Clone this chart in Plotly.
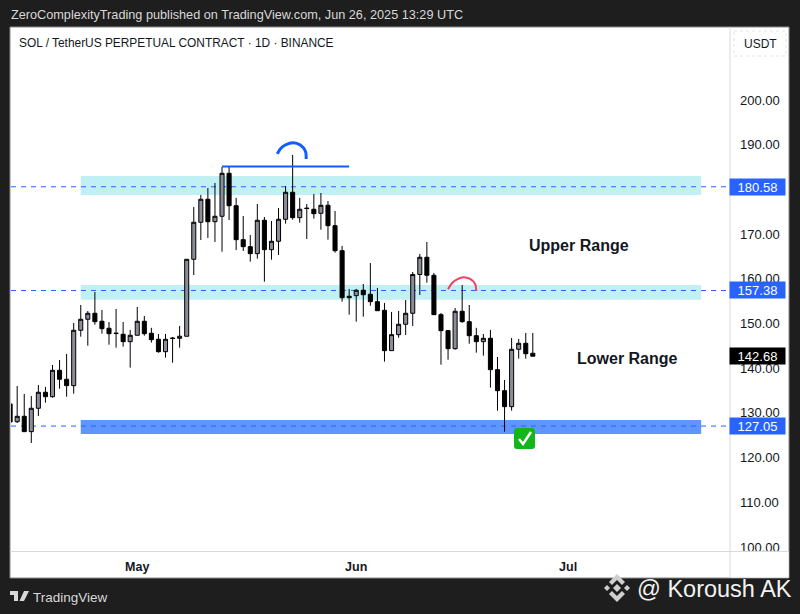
import plotly.graph_objects as go
import pandas as pd

# SOL/USDT daily candles
opens = [131.99, 128.03, 129.24, 125.80, 131.03, 134.61, 133.62, 139.53, 137.52, 136.09, 148.48, 150.94, 152.28, 150.49, 148.93, 147.85, 147.58, 145.93,
         147.36, 150.49, 147.81, 146.47, 143.69, 146.75, 146.69, 147.14, 164.36, 172.64, 177.79, 172.77, 173.98, 183.60, 176.35, 168.75, 167.18, 165.62, 173.09, 166.51, 168.39, 173.31, 179.35, 173.67, 175.82, 175.55, 174.65, 176.44, 171.88, 166.28, 156.08,
         156.22, 157.43, 156.53, 154.88, 152.95, 143.92, 147.50, 149.82, 152.28, 160.96, 164.81, 160.78, 151.97, 148.39, 144.36, 152.73, 150.40, 147.27, 145.93, 146.69, 139.67, 134.97, 131.39, 144.23, 145.57, 143.33]
closes = [127.96, 129.24, 125.80, 131.03, 134.61, 133.62, 139.53, 137.52, 136.09, 148.48, 150.94, 152.28, 150.40, 148.84, 147.72, 147.75, 145.93, 147.36,
          150.49, 147.72, 146.38, 143.69, 146.47, 146.65, 147.14, 164.36, 172.64, 177.79, 172.77, 173.98, 183.60, 176.35, 168.75, 167.18, 165.62, 173.09, 166.51, 168.39, 173.31, 179.35, 173.67, 175.55, 175.72, 174.56, 176.44, 171.88, 166.28, 155.77, 155.77,
          157.43, 156.44, 154.88, 152.86, 143.92, 147.50, 149.82, 152.28, 160.96, 164.81, 160.78, 151.97, 148.39, 144.36, 152.73, 150.40, 147.27, 145.93, 146.69, 139.67, 134.97, 131.39, 144.23, 145.57, 143.24, 142.68]
highs = [133.78, 136.02, 134.23, 133.78, 136.24, 135.80, 140.72, 141.83, 143.18, 150.11, 154.14, 152.80, 157.05, 153.02, 150.34, 153.24, 150.34, 148.55,
         153.69, 151.68, 149.03, 147.65, 147.65, 146.98, 149.44, 164.36, 176.06, 178.75, 180.31, 181.43, 185.01, 185.01, 178.08, 174.05, 169.80, 176.73, 173.83, 172.93, 175.84, 180.76, 187.70, 178.08, 176.73, 178.97, 179.19, 177.40, 175.17, 167.34, 157.72,
         157.72, 158.84, 163.53, 157.94, 154.59, 152.57, 152.80, 155.26, 161.52, 165.55, 168.23, 161.30, 152.35, 148.55, 153.47, 158.61, 154.14, 149.03, 147.65, 148.55, 142.51, 137.36, 146.76, 146.53, 147.88, 147.88]
lows = [125.28, 127.74, 125.80, 123.27, 129.31, 132.28, 133.40, 135.41, 133.62, 134.30, 147.05, 145.03, 149.73, 147.72, 145.26, 144.59, 144.81, 140.12,
        147.36, 147.27, 145.71, 143.47, 142.35, 141.23, 144.59, 147.14, 160.85, 168.68, 169.13, 168.23, 166.06, 173.15, 166.44, 166.22, 163.83, 164.50, 159.35, 164.27, 165.33, 172.33, 173.22, 172.55, 168.90, 173.45, 170.98, 168.75, 165.84, 154.88, 151.97,
        150.40, 151.52, 153.98, 152.86, 141.46, 143.92, 146.82, 147.43, 149.44, 156.38, 159.13, 151.97, 140.78, 141.90, 144.14, 150.18, 145.48, 143.47, 142.80, 135.64, 130.49, 125.80, 130.49, 142.13, 142.13, 142.68]
dates = pd.date_range("2025-04-13", periods=len(opens))

# 180.00 sits under the blue tag in the picture, so it is left out
price_ticks = [100, 110, 120, 130, 140, 150, 160, 170, 190, 200]
price_tick_labels = [f"{p:.2f}" for p in price_ticks]
month_ticks = ["2025-05-01", "2025-06-01", "2025-07-01"]
month_labels = ["May", "Jun", "Jul"]

# zones and levels
zone_start, zone_end = "2025-04-23", "2025-07-19 20:00"
cyan_zones = [(178.75, 183.0), (155.3, 158.6)]
blue_zone = (125.3, 128.4)
levels = [180.58, 157.38, 127.05]
last_price = 142.68
res_line_x = ["2025-05-13", "2025-05-31"]
res_line_y = [185.12, 185.12]
x_range = ["2025-04-13 03:00", "2025-07-23 22:00"]

# hand drawn arcs
blue_arc_x = ["2025-05-20 20:00", "2025-05-21 06:00", "2025-05-21 23:00", "2025-05-23 02:00", "2025-05-24 02:00", "2025-05-24 19:00", "2025-05-24 22:00"]
blue_arc_y = [187.92, 189.04, 189.93, 190.45, 189.93, 188.59, 186.80]
red_arc_x = ["2025-06-14 00:00", "2025-06-14 14:00", "2025-06-15 10:00", "2025-06-16 03:00", "2025-06-17 03:00", "2025-06-17 20:00", "2025-06-18 00:00"]
red_arc_y = [157.65, 159.06, 159.96, 160.33, 159.96, 158.84, 157.27]

W, H = 800, 614
PL, PR, PT, PB = 11, 730, 28, 551
FONT = "Liberation Sans"
DARK = "#1e1e1e"
INK = "#131722"


def px(x):
    return (x - PL) / (PR - PL)


def py(y):
    return (PB - y) / (PB - PT)


def paper_rect(x0, y0, x1, y1, **kw):
    fig.add_shape(type="rect", xref="paper", yref="paper", x0=px(x0), x1=px(x1), y0=py(y0), y1=py(y1), **kw)


def paper_poly(points, color):
    path = "M " + " L ".join(f"{px(a):.5f},{py(b):.5f}" for a, b in points) + " Z"
    fig.add_shape(type="path", xref="paper", yref="paper", path=path, fillcolor=color, line=dict(width=0), layer="above")


def label(x, y, text, size, color, anchor="left", bold=False):
    fig.add_annotation(xref="paper", yref="paper", x=px(x), y=py(y), text=f"<b>{text}</b>" if bold else text,
                       showarrow=False, xanchor=anchor, yanchor="middle",
                       font=dict(family=FONT, size=size, color=color))


fig = go.Figure()

# white panel, axis column and bottom band
paper_rect(10, 27, 789, 578, fillcolor="white", line=dict(color="#8a8a8a", width=1), layer="below")

for lo, hi in cyan_zones:
    fig.add_shape(type="rect", x0=zone_start, x1=zone_end, y0=lo, y1=hi, fillcolor="#c0eff4", line=dict(width=0), layer="below")
fig.add_shape(type="rect", x0=zone_start, x1=zone_end, y0=blue_zone[0], y1=blue_zone[1], fillcolor="#5f95ff", line=dict(width=0), layer="below")

for lvl in levels:
    fig.add_shape(type="line", x0=x_range[0], x1=x_range[1], y0=lvl, y1=lvl,
                  line=dict(color="#2962ff", width=1, dash="5px,5px"), layer="below")

fig.add_trace(go.Candlestick(
    x=dates, open=opens, high=highs, low=lows, close=closes,
    increasing=dict(fillcolor="#8b8e99", line=dict(color="black", width=1)),
    decreasing=dict(fillcolor="black", line=dict(color="black", width=1)),
    whiskerwidth=0, showlegend=False,
))

fig.add_trace(go.Scatter(x=res_line_x, y=res_line_y, mode="lines", line=dict(color="#0f5fff", width=2), showlegend=False))
fig.add_trace(go.Scatter(x=blue_arc_x, y=blue_arc_y, mode="lines", line=dict(color="#0f5fff", width=3, shape="spline"), showlegend=False))
fig.add_trace(go.Scatter(x=red_arc_x, y=red_arc_y, mode="lines", line=dict(color="#f23f5e", width=2, shape="spline"), showlegend=False))

# separators
fig.add_shape(type="line", xref="paper", yref="paper", x0=px(PR), x1=px(PR), y0=py(27), y1=py(578), line=dict(color="#d9d9d9", width=1), layer="above")
paper_rect(731, 552, 788.5, 577.5, fillcolor="white", line=dict(width=0), layer="above")
fig.add_shape(type="line", xref="paper", yref="paper", x0=px(10), x1=px(789), y0=py(551.5), y1=py(551.5), line=dict(color="#d9d9d9", width=1), layer="above")

# price tags
for value, bg in [(180.58, "#2962ff"), (157.38, "#2962ff"), (127.05, "#2962ff"), (last_price, "black")]:
    fig.add_annotation(xref="paper", x=px(729), xanchor="left", y=value, yanchor="middle", text=f"{value:.2f}",
                       showarrow=False, width=55, height=16, borderpad=0, align="center", bgcolor=bg,
                       font=dict(family=FONT, size=13, color="white"))

# texts
label(8.5, 15, "ZeroComplexityTrading published on TradingView.com, Jun 26, 2025 13:29 UTC", 12.7, "#d8d8d8")
label(16.5, 43, "SOL / TetherUS PERPETUAL CONTRACT · 1D · BINANCE", 11.9, INK)
label(578.5, 246, "Upper Range", 16, INK, "center", True)
label(627, 358, "Lower Range", 16, INK, "center", True)
label(31, 597, "TradingView", 13.5, "#d8d8d8")
label(634.5, 589, "@ Koroush AK", 23.5, "#f2f2f2")

# USDT button
fig.add_shape(type="rect", xref="paper", yref="paper", x0=px(734), x1=px(786), y0=py(31), y1=py(56),
              line=dict(color="#e4e4e4", width=1, dash="dot"), layer="above")
label(760, 44, "USDT", 12, INK, "center")

# check mark badge
fig.add_shape(type="path", xref="paper", yref="paper", layer="above", fillcolor="#12b51a", line=dict(width=0),
              path=f"M {px(517)},{py(428)} L {px(532)},{py(428)} Q {px(535)},{py(428)} {px(535)},{py(431)} "
                   f"L {px(535)},{py(446)} Q {px(535)},{py(449)} {px(532)},{py(449)} L {px(517)},{py(449)} "
                   f"Q {px(514)},{py(449)} {px(514)},{py(446)} L {px(514)},{py(431)} Q {px(514)},{py(428)} {px(517)},{py(428)} Z")
fig.add_shape(type="path", xref="paper", yref="paper", layer="above", line=dict(color="white", width=2.5),
              path=f"M {px(519)},{py(439)} L {px(523)},{py(444)} L {px(531)},{py(432)}")

# TradingView logo
paper_poly([(10, 591), (18, 591), (18, 601), (14, 601), (14, 595), (10, 595)], "#d8d8d8")
paper_poly([(24, 591), (29, 591), (24, 601), (19.5, 601)], "#d8d8d8")

# Binance style logo
LOGO = "#cfcfcf"
paper_poly([(617, 584), (621, 588), (617, 592), (613, 588)], LOGO)
paper_poly([(607, 585), (610, 588), (607, 591), (604, 588)], LOGO)
paper_poly([(627, 585), (630, 588), (627, 591), (624, 588)], LOGO)
paper_poly([(617, 574), (625, 582), (622, 585), (617, 580), (612, 585), (609, 582)], LOGO)
paper_poly([(617, 602), (625, 594), (622, 591), (617, 596), (612, 591), (609, 594)], LOGO)

fig.update_layout(
    width=W, height=H,
    margin=dict(l=PL, r=W - PR, t=PT, b=H - PB),
    paper_bgcolor=DARK, plot_bgcolor="white",
    boxgap=0.18,
    hovermode=False,
    xaxis=dict(type="date", range=x_range, rangeslider=dict(visible=False),
               showgrid=False, zeroline=False, showline=False, ticks="",
               tickmode="array", tickvals=month_ticks, ticktext=[f"<b>{m}</b>" for m in month_labels],
               tickfont=dict(family=FONT, size=12.5, color=INK), ticklabelstandoff=6),
    yaxis=dict(side="right", range=[99.1, 216.1], showgrid=False, zeroline=False, showline=False, ticks="",
               tickmode="array", tickvals=price_ticks, ticktext=price_tick_labels,
               tickfont=dict(family=FONT, size=13, color=INK), ticklabelstandoff=9),
)

fig.write_html("out.html", config=dict(displayModeBar=False), post_script="document.body.style.margin='0';")
